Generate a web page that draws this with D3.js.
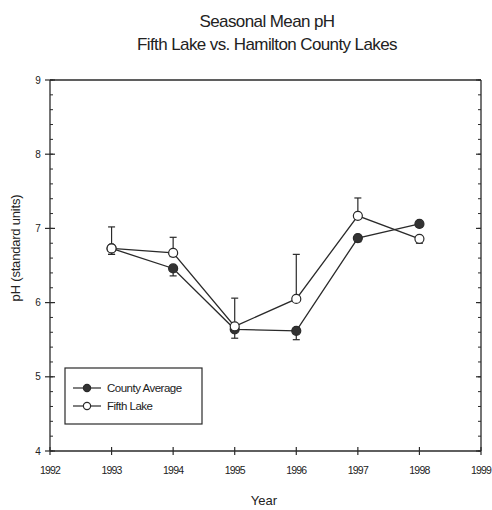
<!DOCTYPE html>
<html>
<head>
<meta charset="utf-8">
<script src="https://cdn.jsdelivr.net/npm/d3@7"></script>
<style>
  body { margin: 0; background: #fff; }
  text { font-family: "Liberation Sans", Arial, sans-serif; fill: #222; }
</style>
</head>
<body>
<div id="chart"></div>
<script>
// ---- data ----
const years = [1993, 1994, 1995, 1996, 1997, 1998];
const county_mean = [6.73, 6.46, 5.64, 5.62, 6.87, 7.06];
const county_low = [6.65, 6.36, 5.52, 5.50, 6.82, 7.02];
const fifth_mean = [6.73, 6.67, 5.68, 6.05, 7.17, 6.86];
const fifth_high = [7.02, 6.88, 6.06, 6.65, 7.41, 6.90];
const fifth_low = [6.65, 6.62, 5.62, 6.02, 7.14, 6.80];
const x_ticks = [1992, 1993, 1994, 1995, 1996, 1997, 1998, 1999];
const y_ticks = [4, 5, 6, 7, 8, 9];

const width = 492, height = 510;
const margin = {left: 50, right: 11, top: 80, bottom: 59};
const stroke = '#2a2a2a';

const svg = d3.select('#chart').append('svg')
  .attr('width', width)
  .attr('height', height);

const x = d3.scaleLinear().domain([1992, 1999]).range([margin.left, width - margin.right]);
const y = d3.scaleLinear().domain([4, 9]).range([height - margin.bottom, margin.top]);

// title
svg.append('text').attr('x', 267).attr('y', 27).attr('text-anchor', 'middle')
  .style('font-size', '17px').style('letter-spacing', '-0.6px').text('Seasonal Mean pH');
svg.append('text').attr('x', 267).attr('y', 50).attr('text-anchor', 'middle')
  .style('font-size', '17px').style('letter-spacing', '-0.6px').text('Fifth Lake vs. Hamilton County Lakes');

// frame
const frame = svg.append('g');
frame.append('line').attr('x1', x(1992)).attr('x2', x(1999)).attr('y1', y(9)).attr('y2', y(9))
  .attr('stroke', stroke).attr('stroke-width', 1.3);
frame.append('line').attr('x1', x(1999)).attr('x2', x(1999)).attr('y1', y(9)).attr('y2', y(4))
  .attr('stroke', stroke).attr('stroke-width', 1.3);

// y axis
const y_minor = d3.range(4, 9.001, 0.2);
const y_axis = svg.append('g').attr('transform', `translate(${x(1992)},0)`);
y_axis.append('line').attr('y1', y(4)).attr('y2', y(9)).attr('stroke', stroke).attr('stroke-width', 1.3);
y_axis.selectAll('line.minor').data(y_minor).join('line').attr('class', 'minor')
  .attr('x1', 0).attr('x2', 3).attr('y1', d => y(d)).attr('y2', d => y(d))
  .attr('stroke', stroke).attr('stroke-width', 1);
y_axis.selectAll('line.major').data(y_ticks).join('line').attr('class', 'major')
  .attr('x1', -5).attr('x2', 5).attr('y1', d => y(d)).attr('y2', d => y(d))
  .attr('stroke', stroke).attr('stroke-width', 1.2);
y_axis.selectAll('text').data(y_ticks).join('text')
  .attr('x', -12).attr('y', d => y(d) + 3.5).attr('text-anchor', 'middle')
  .style('font-size', '10px').text(d => d);

// right side ticks
const r_axis = svg.append('g').attr('transform', `translate(${x(1999)},0)`);
r_axis.selectAll('line.minor').data(y_minor).join('line').attr('class', 'minor')
  .attr('x1', -3).attr('x2', 0).attr('y1', d => y(d)).attr('y2', d => y(d))
  .attr('stroke', stroke).attr('stroke-width', 1);
r_axis.selectAll('line.major').data(y_ticks).join('line').attr('class', 'major')
  .attr('x1', -5).attr('x2', 0).attr('y1', d => y(d)).attr('y2', d => y(d))
  .attr('stroke', stroke).attr('stroke-width', 1.2);

// x axis
const x_axis = svg.append('g').attr('transform', `translate(0,${y(4)})`);
x_axis.append('line').attr('x1', x(1992)).attr('x2', x(1999)).attr('stroke', stroke).attr('stroke-width', 1.3);
x_axis.selectAll('line.major').data(x_ticks).join('line').attr('class', 'major')
  .attr('x1', d => x(d)).attr('x2', d => x(d)).attr('y1', -4).attr('y2', 4)
  .attr('stroke', stroke).attr('stroke-width', 1.2);
x_axis.selectAll('text').data(x_ticks).join('text')
  .attr('x', d => x(d)).attr('y', 23).attr('text-anchor', 'middle')
  .style('font-size', '10.5px').style('letter-spacing', '-0.8px').text(d => d);

svg.append('text').attr('x', 264).attr('y', 505).attr('text-anchor', 'middle')
  .style('font-size', '13px').text('Year');
svg.append('text').attr('transform', 'translate(20,248) rotate(-90)').attr('text-anchor', 'middle')
  .style('font-size', '13px').style('letter-spacing', '-0.2px').text('pH (standard units)');

// ---- series ----
const county = years.map((yr, i) => ({yr, v: county_mean[i], lo: county_low[i], hi: county_mean[i]}));
const fifth = years.map((yr, i) => ({yr, v: fifth_mean[i], lo: fifth_low[i], hi: fifth_high[i]}));
const line = d3.line().x(d => x(d.yr)).y(d => y(d.v));
const plot = svg.append('g');

function error_bars(data) {
  const g = plot.append('g').attr('stroke', stroke).attr('stroke-width', 1.2);
  g.selectAll('line.bar').data(data).join('line').attr('class', 'bar')
    .attr('x1', d => x(d.yr)).attr('x2', d => x(d.yr))
    .attr('y1', d => y(d.lo)).attr('y2', d => y(d.hi));
  g.selectAll('line.top').data(data.filter(d => d.hi > d.v + 0.08)).join('line').attr('class', 'top')
    .attr('x1', d => x(d.yr) - 3.5).attr('x2', d => x(d.yr) + 3.5)
    .attr('y1', d => y(d.hi)).attr('y2', d => y(d.hi));
  g.selectAll('line.bot').data(data.filter(d => d.lo < d.v - 0.03)).join('line').attr('class', 'bot')
    .attr('x1', d => x(d.yr) - 3.5).attr('x2', d => x(d.yr) + 3.5)
    .attr('y1', d => y(d.lo)).attr('y2', d => y(d.lo));
}

error_bars(county);
error_bars(fifth);

plot.append('path').datum(county).attr('d', line)
  .attr('fill', 'none').attr('stroke', stroke).attr('stroke-width', 1.3);
plot.append('path').datum(fifth).attr('d', line)
  .attr('fill', 'none').attr('stroke', stroke).attr('stroke-width', 1.3);

plot.selectAll('circle.county').data(county).join('circle').attr('class', 'county')
  .attr('cx', d => x(d.yr)).attr('cy', d => y(d.v)).attr('r', 4.5)
  .attr('fill', '#333').attr('stroke', stroke).attr('stroke-width', 1.2);
plot.selectAll('circle.fifth').data(fifth).join('circle').attr('class', 'fifth')
  .attr('cx', d => x(d.yr)).attr('cy', d => y(d.v)).attr('r', 4.5)
  .attr('fill', '#fff').attr('stroke', stroke).attr('stroke-width', 1.2);

// ---- legend ----
const legend = svg.append('g').attr('transform', 'translate(65,368)');
legend.append('rect').attr('width', 137).attr('height', 56)
  .attr('fill', '#fff').attr('stroke', stroke).attr('stroke-width', 1.2);
const legend_items = [
  {label: 'County Average', fill: '#333'},
  {label: 'Fifth Lake', fill: '#fff'}
];
const items = legend.selectAll('g').data(legend_items).join('g')
  .attr('transform', (d, i) => `translate(0,${20 + i * 18})`);
items.append('line').attr('x1', 8).attr('x2', 36).attr('stroke', stroke).attr('stroke-width', 1.2);
items.append('circle').attr('cx', 22).attr('r', 3.6).attr('fill', d => d.fill)
  .attr('stroke', stroke).attr('stroke-width', 1.2);
items.append('text').attr('x', 42).attr('y', 4).style('font-size', '11.5px')
  .style('letter-spacing', '-0.5px').text(d => d.label);
</script>
</body>
</html>
